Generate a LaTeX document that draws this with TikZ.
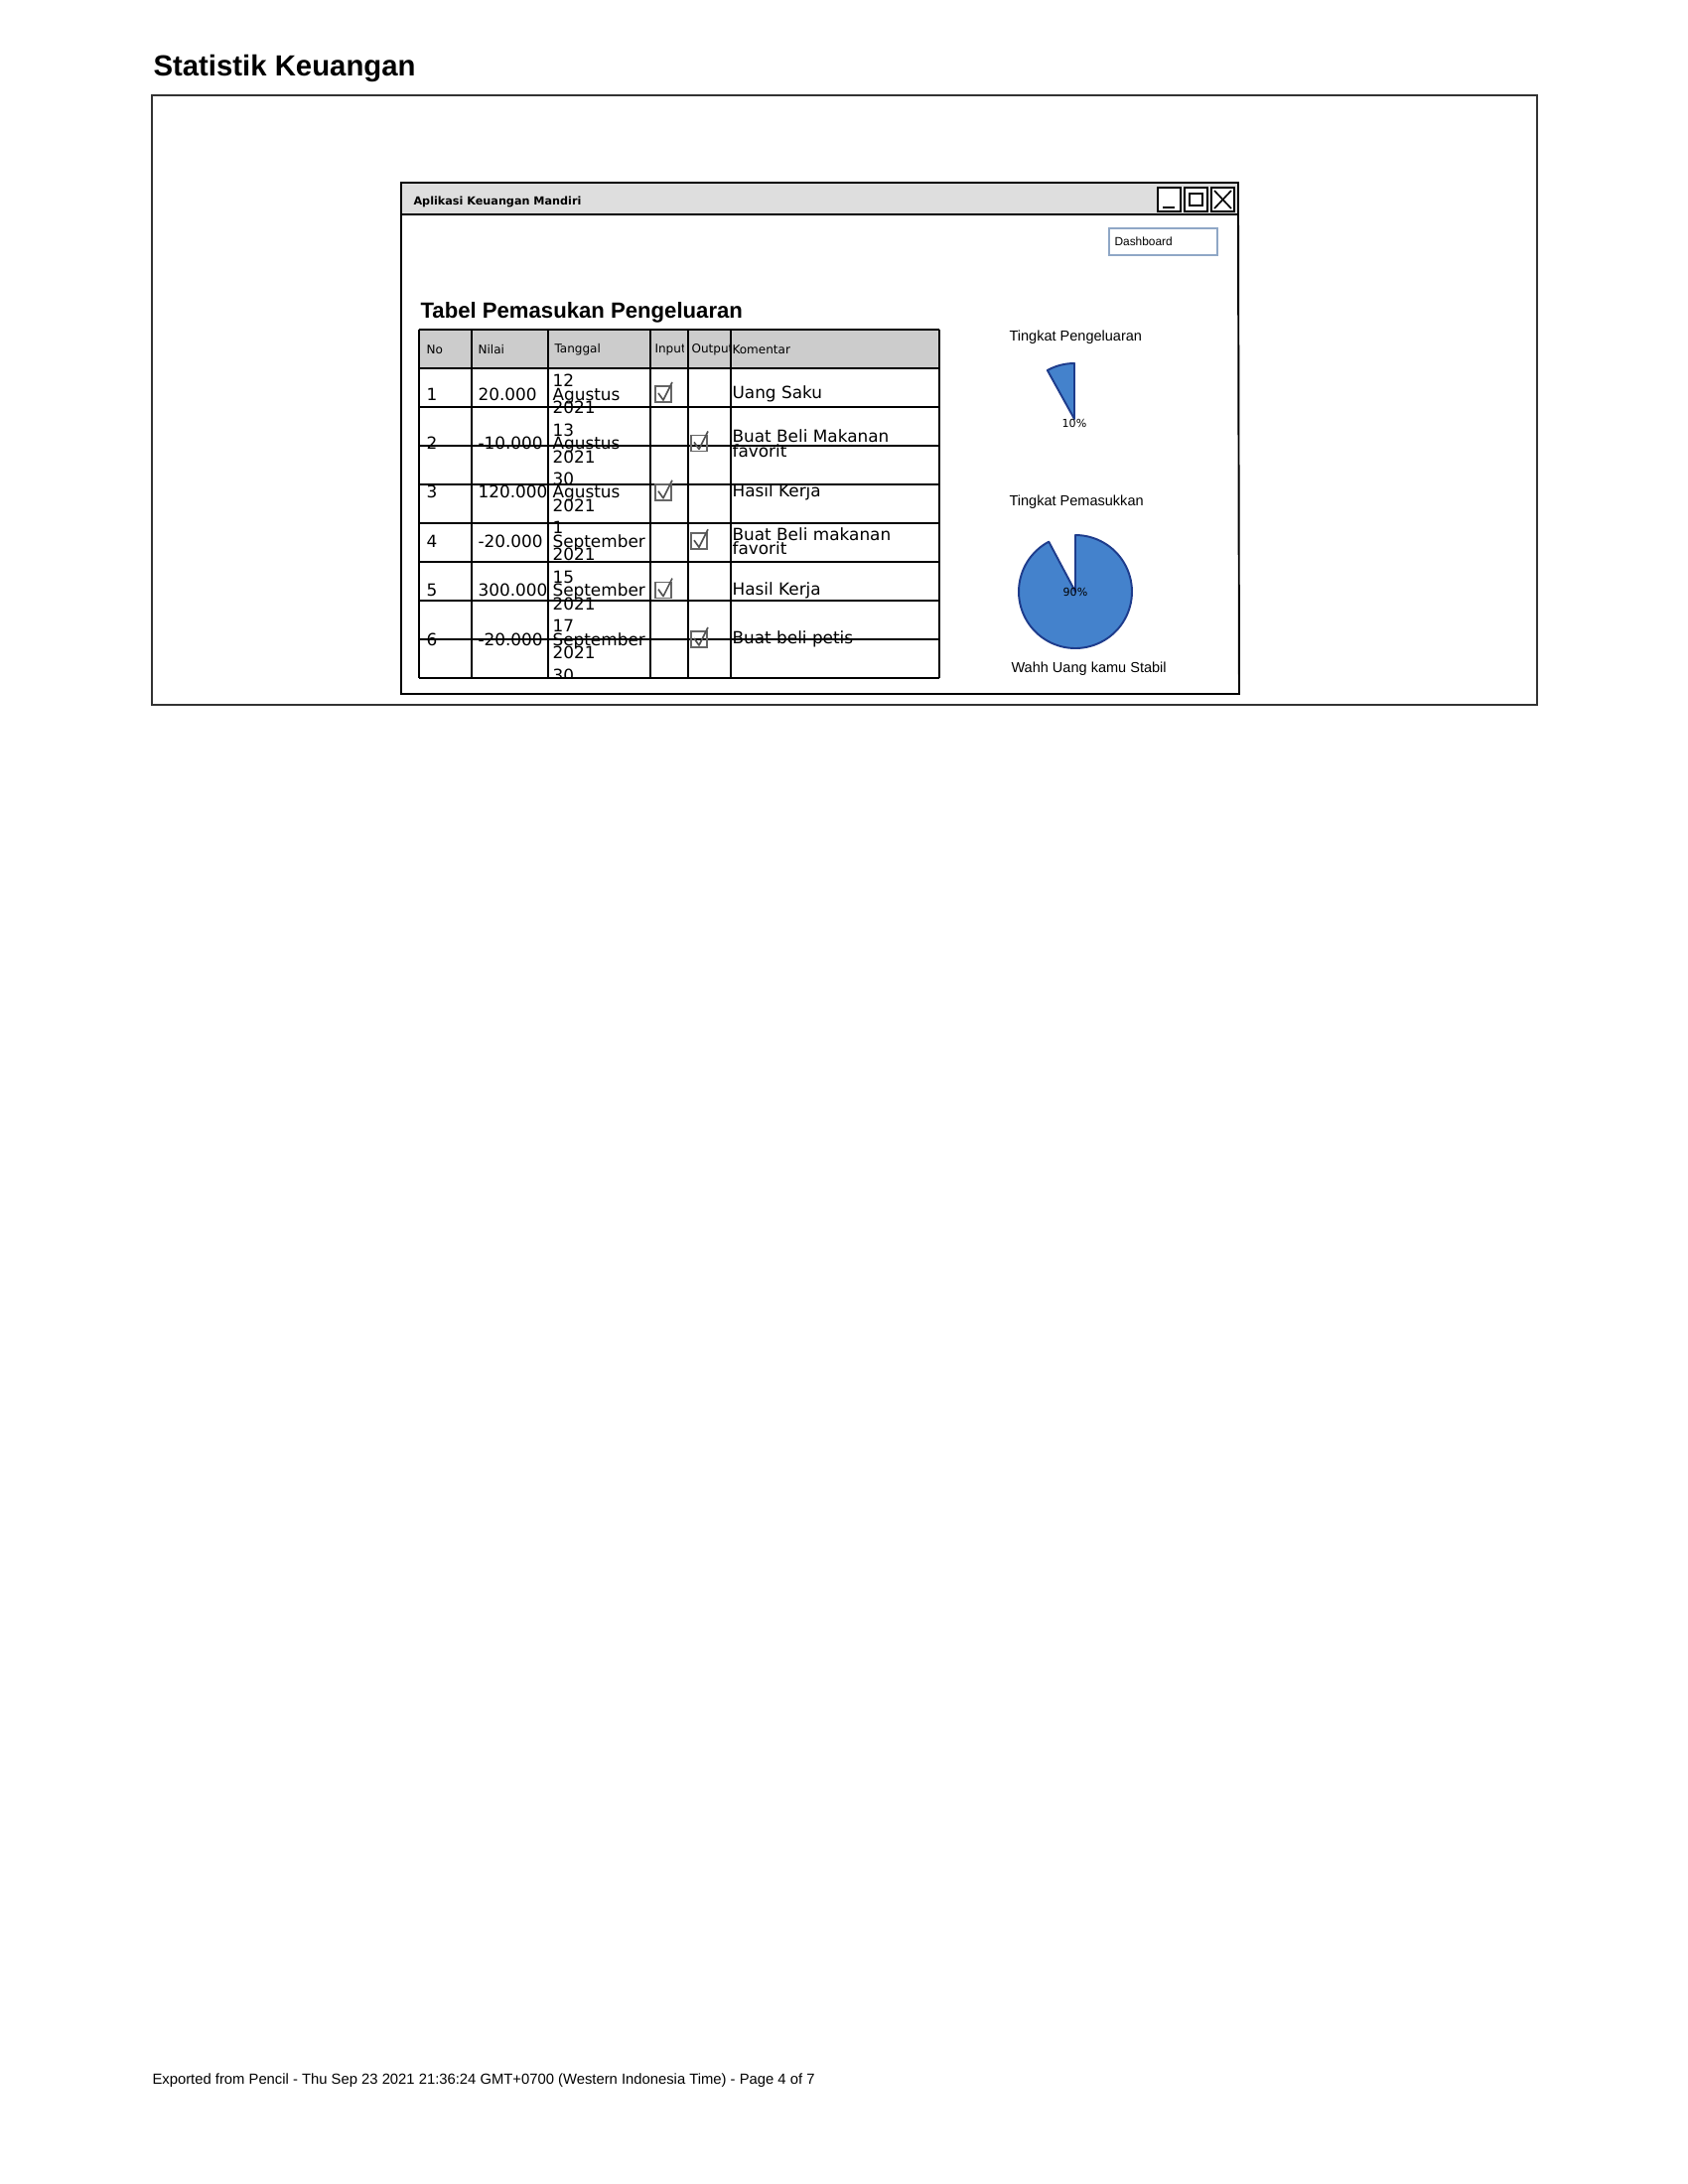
\documentclass[tikz,border=0pt]{standalone}
\usepackage{fontspec}
\setmainfont{Liberation Sans}
\newfontfamily\sketchfont{DejaVu Sans}
\newcommand\rapat{\setlength{\lineskiplimit}{-20pt}}
\definecolor{titlegray}{HTML}{DEDEDE}
\definecolor{headgray}{HTML}{CCCCCC}
\definecolor{framegray}{HTML}{333333}
\definecolor{dashblue}{HTML}{8FA7C6}
\definecolor{tickgray}{HTML}{666666}
\definecolor{piefill}{HTML}{4482CC}
\definecolor{pieline}{HTML}{1E3C8C}
\tikzset{
  tline/.style={line width=0.55pt},
  wline/.style={line width=0.7pt},
  head/.style={inner sep=0pt,anchor=west,font=\sketchfont\fontsize{4.35}{5}\selectfont},
  cell/.style={inner sep=0pt,anchor=west,align=left,font=\sketchfont\fontsize{6.1}{4.9}\selectfont\rapat},
  kom/.style={cell,font=\sketchfont\fontsize{6.1}{5.4}\selectfont\rapat},
  lbl/.style={inner sep=0pt,anchor=west,font=\fontsize{5.25}{6}\selectfont},
  pct/.style={inner sep=0pt,font=\sketchfont\fontsize{4}{5}\selectfont},
  cekbox/.style={draw=tickgray,line width=0.6pt},
  tick/.style={draw=tickgray!80!black,line width=0.6pt,line join=round},
  pie/.style={fill=piefill,draw=pieline,line width=0.7pt,line join=round},
}

\begin{document}
\begin{tikzpicture}[x=0.127mm,y=-0.127mm]
  \useasboundingbox[fill=white] (0,0) rectangle (1700,2200);
  % heading and frame
  \node[anchor=base west,inner sep=0pt,font=\bfseries\fontsize{10.6}{12}\selectfont] (judul) at (154,76) {Statistik Keuangan};
  \draw[draw=framegray,line width=0.9pt] (153,96) rectangle (1548,710);

  % window
  \draw[wline,fill=titlegray] (404,184) rectangle (1247,216);
  \draw[wline] (404,216) -- (404,699) -- (1248,699) -- (1247,216);
  \node[anchor=west,inner sep=0pt,font=\sketchfont\bfseries\fontsize{4.05}{5}\selectfont] (apptitle) at (416,203) {Aplikasi Keuangan Mandiri};
  \foreach \x in {1166,1193,1220}
    \draw[fill=white,line width=0.6pt] (\x,189) rectangle ++(23,24);
  \draw[line width=0.6pt] (1171,209) -- (1183,209);
  \draw[line width=0.6pt] (1198,195) rectangle (1211,207);
  \draw[line width=0.6pt] (1223,192) -- (1240,210) (1240,192) -- (1223,210);
  \draw[draw=dashblue,line width=0.5pt] (1117,230) rectangle (1226,257);
  \node[lbl,font=\fontsize{4.3}{5}\selectfont] (dashboard) at (1122,243.5) {Dashboard};

  % table
  \node[anchor=base west,inner sep=0pt,font=\bfseries\fontsize{8}{9}\selectfont] (tabel) at (423,320) {Tabel Pemasukan Pengeluaran};
  \fill[headgray] (422,332) rectangle (946,371);
  \foreach \y in {332,371,...,683}
    \draw[tline] (422,\y) -- (946,\y);
  \foreach \x in {422,475,552,655,693,736,946}
    \draw[tline] (\x,332) -- (\x,683);
  \node[head] (hno) at (429,352) {No};
  \node[head] (hnilai) at (481,352) {Nilai};
  \node[head] (htgl) at (558,352) {Tanggal};
  \begin{scope}
    \clip (655,333) rectangle (688,370);
    \node[head] (hin) at (659,352) {Input};
  \end{scope}
  \begin{scope}
    \clip (693,333) rectangle (735,370);
    \node[head] (hout) at (696,352) {Output};
  \end{scope}
  \node[head] (hkom) at (737,352) {Komentar};

  \begin{scope}
    \clip (422,332) rectangle (946,683);
    \foreach \i/\val/\tgl/\bln/\kom/\cx in {
        1/20.000/12/Agustus/Uang Saku/668,
        2/-10.000/13/Agustus/{Buat Beli Makanan\\favorit}/704,
        3/120.000/30/Agustus/Hasil Kerja/668,
        4/-20.000/1/September/{Buat Beli makanan\\favorit}/704,
        5/300.000/15/September/Hasil Kerja/668,
        6/-20.000/17/September/Buat beli petis/704} {
      \pgfmathsetmacro\ry{397+49.4*(\i-1)}
      \node[cell] (no\i) at (429,\ry) {\i};
      \node[cell] (nilai\i) at (481,\ry) {\val};
      \node[cell] (tgl\i) at (556,\ry) {\tgl\\\bln\\2021};
      \node[kom] (kom\i) at (737,\ry) {\kom};
      \draw[cekbox] ({\cx-8},{\ry-8}) rectangle ({\cx+8},{\ry+8});
      \draw[tick] ({\cx-5},{\ry-1}) -- (\cx,{\ry+6}) -- ({\cx+9},{\ry-12});
    }
    \node[cell] (tgl7) at (556,693.4) {30\\September\\2021};
  \end{scope}

  % charts
  \node[lbl] (keluar) at (1016,340) {Tingkat Pengeluaran};
  \filldraw[pie] (1082,422) -- plot[domain=90:119,samples=20] ({1082+56*cos(\x)},{422-56*sin(\x)}) -- cycle;
  \node[pct] (p10) at (1082,426) {10\%};
  \node[lbl] (masuk) at (1016,506) {Tingkat Pemasukkan};
  \filldraw[pie] (1083,596) -- plot[domain=118:450,samples=90] ({1083+57*cos(\x)},{596-57*sin(\x)}) -- cycle;
  \node[pct] (p90) at (1083,596) {90\%};
  \node[lbl] (stabil) at (1018,674) {Wahh Uang kamu Stabil};

  % footer
  \node[lbl,font=\fontsize{5.35}{6}\selectfont] (footer) at (153,2096) {Exported from Pencil - Thu Sep 23 2021 21:36:24 GMT+0700 (Western Indonesia Time) - Page 4 of 7};
\end{tikzpicture}
\end{document}
